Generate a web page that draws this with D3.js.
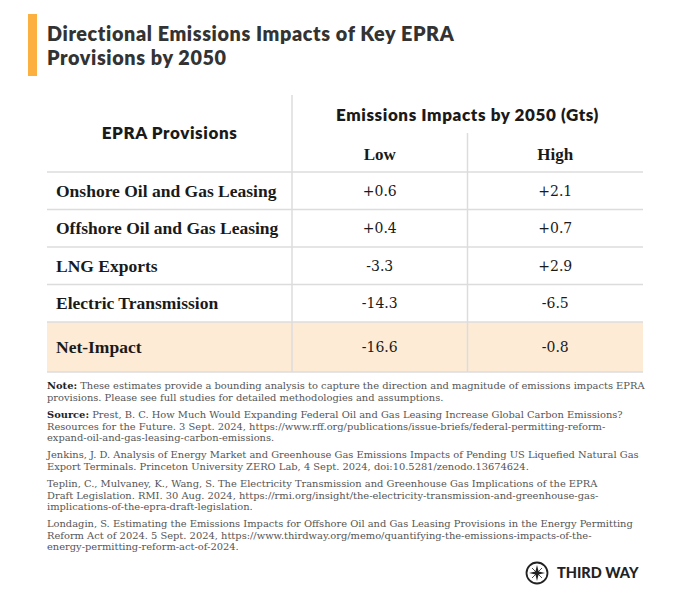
<!DOCTYPE html>
<html>
<head>
<meta charset="utf-8">
<script src="https://cdn.jsdelivr.net/npm/d3@7"></script>
<style>
  body { margin: 0; background: #fff; }
  svg { display: block; }
</style>
</head>
<body>
<script>
// table content
const provisions = ["Onshore Oil and Gas Leasing", "Offshore Oil and Gas Leasing", "LNG Exports", "Electric Transmission"];
const netLabel = "Net-Impact";
const columns = ["Low", "High"];
const lowValues = [0.6, 0.4, -3.3, -14.3];
const highValues = [2.1, 0.7, 2.9, -6.5];
const netValues = [-16.6, -0.8];

const titleLines = ["Directional Emissions Impacts of Key EPRA", "Provisions by 2050"];
const groupHeader = "Emissions Impacts by 2050 (Gts)";
const rowHeader = "EPRA Provisions";

// notes: [bold lead, lines...]
const notes = [
  ["Note:", " These estimates provide a bounding analysis to capture the direction and magnitude of emissions impacts EPRA",
    "provisions. Please see full studies for detailed methodologies and assumptions."],
  ["Source:", " Prest, B. C. How Much Would Expanding Federal Oil and Gas Leasing Increase Global Carbon Emissions?",
    "Resources for the Future. 3 Sept. 2024, https://www.rff.org/publications/issue-briefs/federal-permitting-reform-",
    "expand-oil-and-gas-leasing-carbon-emissions."],
  ["", "Jenkins, J. D. Analysis of Energy Market and Greenhouse Gas Emissions Impacts of Pending US Liquefied Natural Gas",
    "Export Terminals. Princeton University ZERO Lab, 4 Sept. 2024, doi:10.5281/zenodo.13674624."],
  ["", "Teplin, C., Mulvaney, K., Wang, S. The Electricity Transmission and Greenhouse Gas Implications of the EPRA",
    "Draft Legislation. RMI. 30 Aug. 2024, https://rmi.org/insight/the-electricity-transmission-and-greenhouse-gas-",
    "implications-of-the-epra-draft-legislation."],
  ["", "Londagin, S. Estimating the Emissions Impacts for Offshore Oil and Gas Leasing Provisions in the Energy Permitting",
    "Reform Act of 2024. 5 Sept. 2024, https://www.thirdway.org/memo/quantifying-the-emissions-impacts-of-the-",
    "energy-permitting-reform-act-of-2024."]
];

const width = 680, height = 614;
const left = 47, right = 643, divider = 292;
const headTop = 95, subTop = 133, headBottom = 172, netTop = 322, netBottom = 372;
const gridColor = "#dcdcdc";
const sans = "Lato, 'Open Sans', sans-serif";
const serif = "'Liberation Serif', serif";
const serif2 = "'DejaVu Serif', serif";

const fmt = v => d3.format("+.1f")(v).replace("\u2212", "-");

const svg = d3.select("body").append("svg")
    .attr("width", width)
    .attr("height", height);

// title
svg.append("rect")
    .attr("x", 28).attr("y", 14)
    .attr("width", 9).attr("height", 62)
    .attr("fill", "#fbb040");

svg.append("g")
    .attr("font-family", sans)
    .attr("font-weight", 800)
    .attr("font-size", 19.8)
    .attr("letter-spacing", 0.6)
    .attr("fill", "#333")
  .selectAll("text")
  .data(titleLines)
  .join("text")
    .attr("x", 47)
    .attr("y", (d, i) => 41 + i * 24)
    .text(d => d);

// scales
const x = d3.scaleBand().domain(columns).range([divider, right]);
const y = d3.scaleBand().domain(provisions).range([headBottom, netTop]);

// net impact background
svg.append("rect")
    .attr("x", left).attr("y", netTop)
    .attr("width", right - left).attr("height", netBottom - netTop)
    .attr("fill", "#fdebd6");

// grid
const grid = svg.append("g").attr("stroke", gridColor).attr("stroke-width", 1.5);
grid.selectAll("line.h")
  .data(provisions.map(p => y(p)).concat([netTop, netBottom]))
  .join("line")
    .attr("class", "h")
    .attr("x1", left).attr("x2", right)
    .attr("y1", d => d).attr("y2", d => d);
grid.append("line")
    .attr("x1", divider).attr("x2", divider)
    .attr("y1", headTop).attr("y2", netBottom);
grid.append("line")
    .attr("x1", x("High")).attr("x2", x("High"))
    .attr("y1", subTop).attr("y2", netBottom);

// headers
const head = svg.append("g")
    .attr("text-anchor", "middle")
    .attr("font-family", sans)
    .attr("font-weight", 800)
    .attr("font-size", 17)
    .attr("letter-spacing", 0.6)
    .attr("fill", "#1a1a1a");
head.append("text")
    .attr("x", (left + divider) / 2)
    .attr("y", 139)
    .text(rowHeader);
head.append("text")
    .attr("x", (divider + right) / 2)
    .attr("y", 121)
    .text(groupHeader);

svg.append("g")
    .attr("font-family", serif)
    .attr("font-weight", 700)
    .attr("font-size", 17)
    .attr("fill", "#1a1a1a")
    .attr("text-anchor", "middle")
  .selectAll("text")
  .data(columns)
  .join("text")
    .attr("x", d => x(d) + x.bandwidth() / 2)
    .attr("y", 160)
    .text(d => d);

// rows
const rows = provisions.map((p, i) => ({label: p, values: [lowValues[i], highValues[i]], top: y(p), h: y.bandwidth()}));
rows.push({label: netLabel, values: netValues, top: netTop, h: netBottom - netTop});

const row = svg.append("g")
  .selectAll("g")
  .data(rows)
  .join("g")
    .attr("transform", d => `translate(0,${d.top + d.h / 2})`);

row.append("text")
    .attr("x", 56)
    .attr("dy", "0.34em")
    .attr("font-family", serif)
    .attr("font-weight", 700)
    .attr("font-size", 17.5)
    .attr("fill", "#1a1a1a")
    .text(d => d.label);

row.selectAll("text.v")
  .data(d => d.values.map((v, i) => ({col: columns[i], v})))
  .join("text")
    .attr("class", "v")
    .attr("x", d => x(d.col) + x.bandwidth() / 2)
    .attr("dy", "0.36em")
    .attr("text-anchor", "middle")
    .attr("font-family", serif2)
    .attr("font-size", 14)
    .attr("fill", "#1a1a1a")
    .text(d => fmt(d.v));

// notes
const noteG = svg.append("g")
    .attr("font-family", serif2)
    .attr("font-size", 9.9)
    .attr("fill", "#555");

let ny = 389.3;
const lineH = 11.4, paraGap = 6;
notes.forEach(([lead, ...lines]) => {
  lines.forEach((line, i) => {
    const t = noteG.append("text").attr("x", 47).attr("y", ny);
    if (i === 0 && lead) {
      t.append("tspan").attr("font-weight", 700).attr("fill", "#222").text(lead);
    }
    t.append("tspan").text(line);
    ny += lineH;
  });
  ny += paraGap;
});

// logo
const logo = svg.append("g").attr("transform", "translate(537,573)");
logo.append("circle")
    .attr("r", 10.5)
    .attr("fill", "none")
    .attr("stroke", "#222")
    .attr("stroke-width", 1.8);
logo.append("path")
    .attr("d", "M0,-8L1.6,-1.6L8,0L1.6,1.6L0,8L-1.6,1.6L-8,0L-1.6,-1.6Z")
    .attr("fill", "#222");
logo.append("path")
    .attr("d", "M-5,-5L5,5M5,-5L-5,5")
    .attr("stroke", "#222")
    .attr("stroke-width", 0.8);
svg.append("text")
    .attr("x", 557)
    .attr("y", 578)
    .attr("font-family", sans)
    .attr("font-weight", 900)
    .attr("font-size", 14.5)
    .attr("fill", "#222")
    .text("THIRD WAY");
</script>
</body>
</html>
